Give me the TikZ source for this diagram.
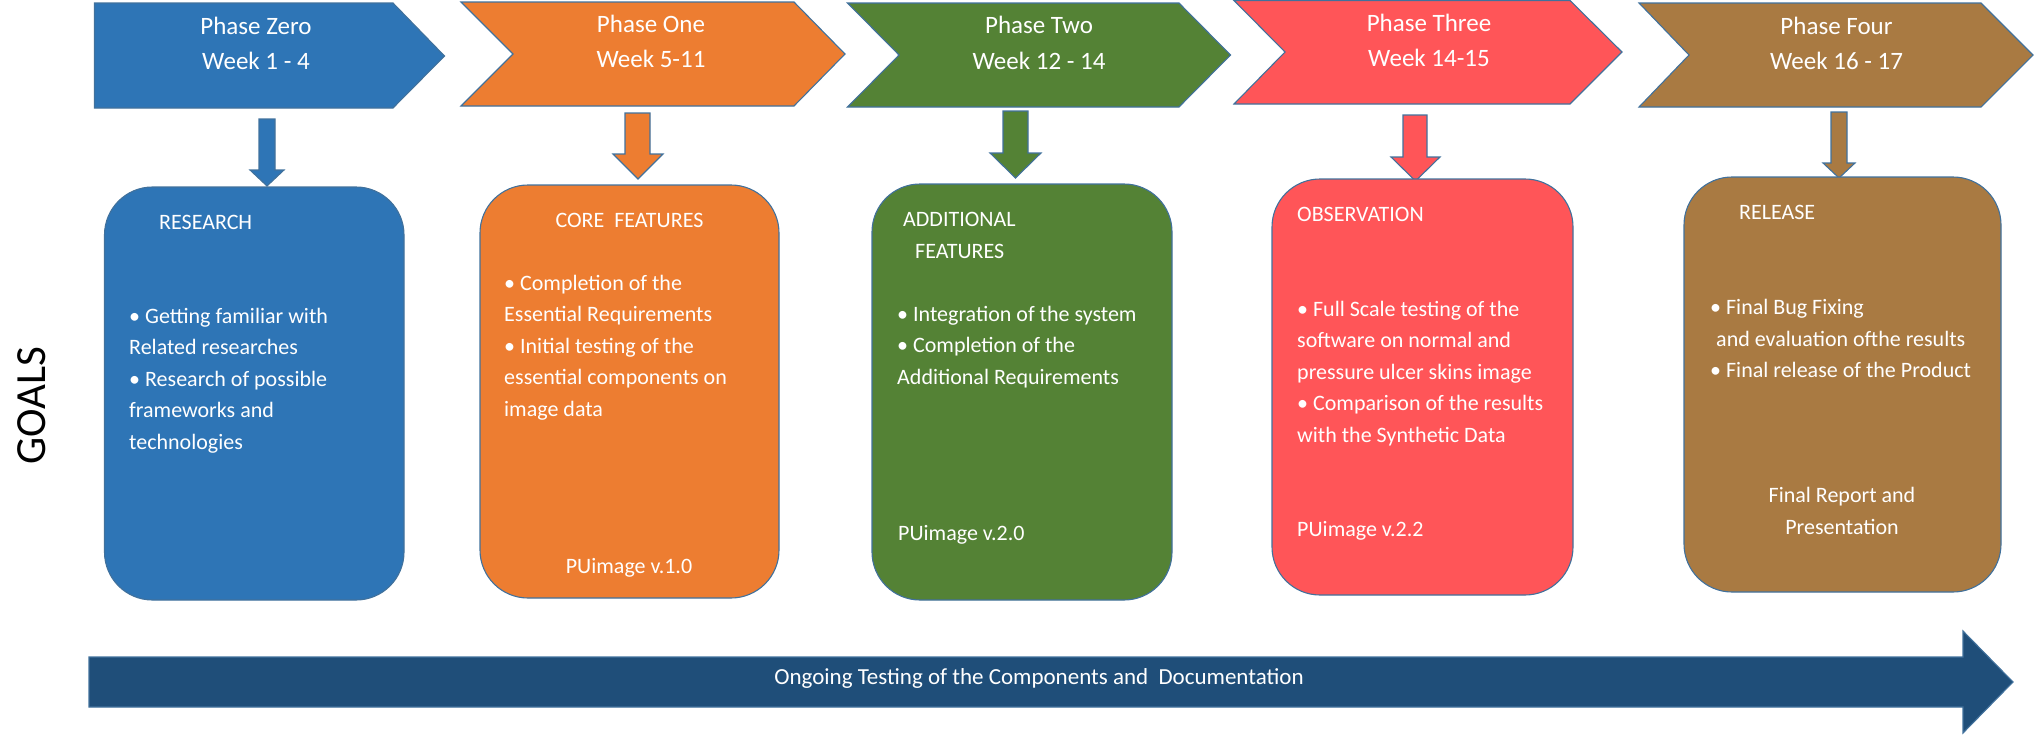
\documentclass[tikz,border=0pt]{standalone}
\usepackage{fontspec}
\setmainfont{Carlito}
\definecolor{cBlue}{HTML}{2E75B6}
\definecolor{cOrange}{HTML}{ED7D31}
\definecolor{cGreen}{HTML}{548235}
\definecolor{cRed}{HTML}{FF5558}
\definecolor{cBrown}{HTML}{A97A42}
\definecolor{cNavy}{HTML}{1F4E79}
\definecolor{cLine}{HTML}{41719C}
\begin{document}
\begin{tikzpicture}[x=1pt,y=-1pt,
  blk/.style={draw=cLine, line width=1.1pt, fill=#1, line join=miter},
  rbox/.style={blk=#1, rounded corners=48pt},
  phasetxt/.style={text=white, font=\fontsize{25}{30}\selectfont, inner sep=0pt, anchor=base},
  bodytxt/.style={text=white, font=\fontsize{22}{26}\selectfont, inner sep=0pt, anchor=base west},
  ctrtxt/.style={bodytxt, anchor=base},
]
\useasboundingbox (0,0) rectangle (2034,734);

% phase chevrons
\path[blk=cBlue]   (94.5,3) -- (393,3) -- (444.5,56) -- (393,108) -- (94.5,108) -- cycle;
\path[blk=cOrange] (461,2) -- (794,2) -- (845,54) -- (794,106) -- (461,106) -- (513,54) -- cycle;
\path[blk=cGreen]  (847.5,3) -- (1179,3) -- (1230.5,55) -- (1179,107) -- (847.5,107) -- (899,55) -- cycle;
\path[blk=cRed]    (1234,0.5) -- (1570,0.5) -- (1622,52) -- (1570,104) -- (1234,104) -- (1285,52) -- cycle;
\path[blk=cBrown]  (1639,3) -- (1981,3) -- (2033,55) -- (1981,107) -- (1639,107) -- (1689,55) -- cycle;

\node[phasetxt] (p0a) at (256,34) {Phase Zero};
\node[phasetxt] (p0b) at (256,69) {Week 1 - 4};
\node[phasetxt] (p1a) at (651,32) {Phase One};
\node[phasetxt] (p1b) at (651,67) {Week 5-11};
\node[phasetxt] (p2a) at (1039,33) {Phase Two};
\node[phasetxt] (p2b) at (1039,69) {Week 12 - 14};
\node[phasetxt] (p3a) at (1429,31) {Phase Three};
\node[phasetxt] (p3b) at (1429,66) {Week 14-15};
\node[phasetxt] (p4a) at (1836.5,34) {Phase Four};
\node[phasetxt] (p4b) at (1836.5,69) {Week 16 - 17};

% down block arrows
\path[blk=cBlue]   (259,119) -- (275,119) -- (275,170) -- (284,170) -- (267,186) -- (250,170) -- (259,170) -- cycle;
\path[blk=cOrange] (625,113) -- (650,113) -- (650,154) -- (663,154) -- (638,179) -- (613,154) -- (625,154) -- cycle;
\path[blk=cGreen]  (1003,111) -- (1028,111) -- (1028,153) -- (1041,153) -- (1015.5,178) -- (990,153) -- (1003,153) -- cycle;
\path[blk=cRed]    (1403,115) -- (1427,115) -- (1427,157) -- (1440,157) -- (1415.5,181) -- (1391,157) -- (1403,157) -- cycle;
\path[blk=cBrown]  (1831,112) -- (1847,112) -- (1847,163) -- (1855,163) -- (1839,178) -- (1823,163) -- (1831,163) -- cycle;

% goal boxes
\path[rbox=cBlue]   (104.5,187) rectangle (404,600);
\path[rbox=cOrange] (480,185) rectangle (779,598);
\path[rbox=cGreen]  (872,184) rectangle (1172,600);
\path[rbox=cRed]    (1272,179) rectangle (1573,595);
\path[rbox=cBrown]  (1684,177) rectangle (2001,592);

% blue box text
\node[bodytxt] (h0) at (159,229) {RESEARCH};
\foreach \t [count=\i] in {{• Getting familiar with},{Related researches},{• Research of possible},{frameworks and},{technologies}}
  \node[bodytxt] (b0l\i) at (129,{323+31.5*(\i-1)}) {\t};

% orange box text
\node[ctrtxt] (h1) at (629.5,227) {CORE~~FEATURES};
\foreach \t [count=\i] in {{• Completion of the},{Essential Requirements},{• Initial testing of the},{essential components on},{image data}}
  \node[bodytxt] (b1l\i) at (504,{290+31.5*(\i-1)}) {\t};
\node[ctrtxt] (v1) at (629,573) {PUimage v.1.0};

% green box text
\node[bodytxt] (h2a) at (903,226) {ADDITIONAL};
\node[bodytxt] (h2b) at (915,258) {FEATURES};
\foreach \t [count=\i] in {{• Integration of the system},{• Completion of the},{Additional Requirements}}
  \node[bodytxt] (b2l\i) at (897,{321+31.5*(\i-1)}) {\t};
\node[bodytxt] (v2) at (898,540) {PUimage v.2.0};

% red box text
\node[bodytxt] (h3) at (1297,221) {OBSERVATION};
\foreach \t [count=\i] in {{• Full Scale testing of the},{software on normal and},{pressure ulcer skins image},{• Comparison of the results},{with the Synthetic Data}}
  \node[bodytxt] (b3l\i) at (1297,{316+31.5*(\i-1)}) {\t};
\node[bodytxt] (v3) at (1297,536) {PUimage v.2.2};

% brown box text
\node[bodytxt] (h4) at (1739,219) {RELEASE};
\node[bodytxt] (b4l1) at (1710,314) {• Final Bug Fixing};
\node[bodytxt] (b4l2) at (1716,346) {and evaluation ofthe results};
\node[bodytxt] (b4l3) at (1710,377) {• Final release of the Product};
\node[ctrtxt] (v4a) at (1842,502) {Final Report and};
\node[ctrtxt] (v4b) at (1842,534) {Presentation};

% bottom arrow
\path[blk=cNavy] (89,657) -- (1963,657) -- (1963,631) -- (2013,682) -- (1963,733) -- (1963,707) -- (89,707) -- cycle;
\node[text=white, font=\fontsize{23}{28}\selectfont, inner sep=0pt, anchor=base] (ongoing) at (1039,684) {Ongoing Testing of the Components and~~Documentation};

% side label
\node[font=\fontsize{43}{50}\selectfont, inner sep=0pt, rotate=90] (goals) at (32,406) {GOALS};
\end{tikzpicture}
\end{document}
